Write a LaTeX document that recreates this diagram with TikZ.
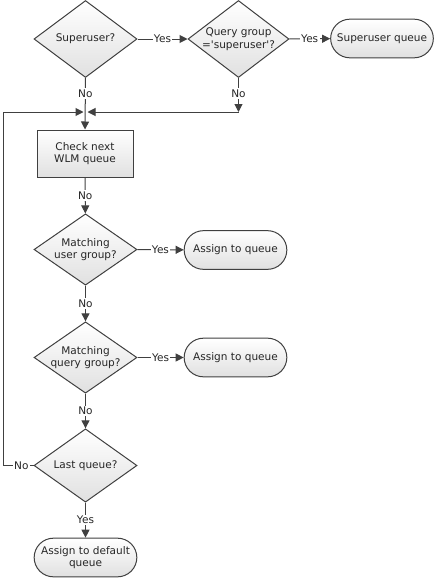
\documentclass[tikz,border=0pt]{standalone}
\usepackage{fontspec}
\setmainfont{DejaVu Sans}
\usetikzlibrary{shapes.geometric,arrows.meta}
\definecolor{edge}{HTML}{404040}
\begin{document}
\begin{tikzpicture}[x=0.75pt,y=-0.75pt,
  every node/.style={font=\fontsize{7.9}{9.5}\selectfont,text=black!85},
  test/.style={diamond,draw=edge,line width=0.75pt,top color=white,bottom color=black!12,
    inner sep=-10pt,minimum width=77.25pt,align=center},
  proc/.style={rectangle,draw=edge,line width=0.75pt,top color=white,bottom color=black!12,
    minimum width=72pt,minimum height=35.25pt,align=center},
  term/.style={rectangle,rounded corners=14.5pt,draw=edge,line width=0.75pt,top color=white,
    bottom color=black!12,minimum width=77pt,minimum height=29pt,inner sep=1pt,align=center},
  flow/.style={draw=edge,line width=0.75pt,-{Triangle[length=6pt,width=6pt]}},
  lbl/.style={fill=white,inner sep=1pt}]
\useasboundingbox (0,0) rectangle (436,579);
% decisions and boxes
\node[test,minimum height=57.75pt] (su) at (85.5,39) {Superuser?};
\node[test,minimum height=57.75pt,minimum width=75.75pt] (qg) at (238.5,39) {Query group\\=\textquotesingle superuser\textquotesingle?};
\node[term] (sq) at (382,38.5) {Superuser queue};
\node[proc] (chk) at (85,153.5) {Check next\\WLM queue};
\node[test,minimum height=53.5pt] (um) at (85.5,249.5) {Matching\\user group?};
\node[term] (aq1) at (235.5,250) {Assign to queue};
\node[test,minimum height=53.5pt] (qm) at (85.5,357.5) {Matching\\query group?};
\node[term] (aq2) at (235.5,357.5) {Assign to queue};
\node[test,minimum height=55pt] (lq) at (85.5,465.5) {Last queue?};
\node[term] (dq) at (85.5,557.5) {Assign to default\\queue};
\coordinate (j) at (85.5,112);
\coordinate (qj) at (238.5,112);
\coordinate (lc) at (3,465.5);
% connectors
\draw[flow] (su) -- node[lbl] {Yes} (qg);
\draw[flow] (qg) -- node[lbl] {Yes} (sq);
\draw[flow] (su.south) -- node[lbl,pos=0.3] {No} (chk.north);
\draw[flow] (qg.south) -- node[lbl,pos=0.45] {No} (qj);
\draw[flow] (qj) -- ([xshift=1.5]j);
\draw[flow] (chk) -- node[lbl] {No} (um);
\draw[flow] (um) -- node[lbl] {Yes} (aq1);
\draw[flow] (um) -- node[lbl] {No} (qm);
\draw[flow] (qm) -- node[lbl] {Yes} (aq2);
\draw[flow] (qm) -- node[lbl] {No} (lq);
\draw[flow] (lq.west) -- node[lbl,pos=0.4] {No} (lc) |- ([xshift=-1.5]j);
\draw[flow] (lq) -- node[lbl] {Yes} (dq);
\end{tikzpicture}
\end{document}
